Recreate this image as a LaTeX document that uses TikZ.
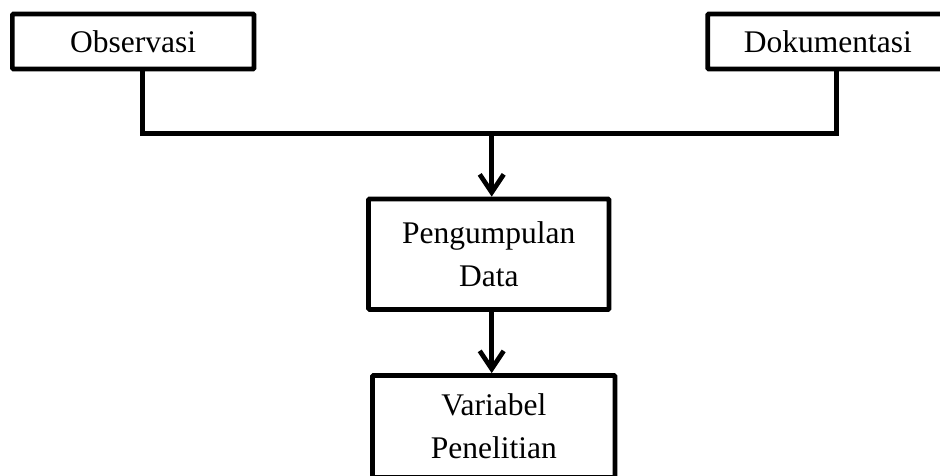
\documentclass[tikz,border=0pt]{standalone}
\usepackage{fontspec}
\setmainfont{Liberation Serif}
\usetikzlibrary{arrows.meta}
\begin{document}
\begin{tikzpicture}[x=1pt,y=-1pt,
  box/.style={draw=black, line width=4.7pt, fill=white, rectangle, align=center,
    inner sep=0pt, font=\fontsize{31.5}{43}\selectfont, rounded corners=1pt},
  conn/.style={draw=black, line width=4.7pt},
  arr/.style={conn, -{Straight Barb[length=18pt,width=24pt,line join=miter]}}]
\useasboundingbox (0,0) rectangle (940,476);
\clip (0,0) rectangle (940,476);
\node[box, minimum width=241.7pt, minimum height=55pt] (obs) at (133.2,41.5) {Observasi};
\node[box, minimum width=240.3pt, minimum height=55pt] (dok) at (827.8,41.5) {Dokumentasi};
\node[box, minimum width=240.5pt, minimum height=110.5pt] (pd) at (488.8,254.2) {Pengumpulan\\Data};
\node[box, minimum width=242.5pt, minimum height=102pt] (vp) at (493.8,426.5) {Variabel\\Penelitian};
\coordinate (j1) at (142.5,133.3);
\coordinate (j2) at (836.5,133.3);
\coordinate (jm) at (491.7,133.3);
\draw[conn, line join=miter] (obs.south -| j1) -- (j1) -- (j2) -- (dok.south -| j2);
\draw[arr] (jm) -- (jm |- pd.north);
\draw[arr] (pd.south -| jm) -- (jm |- vp.north);
\end{tikzpicture}
\end{document}
